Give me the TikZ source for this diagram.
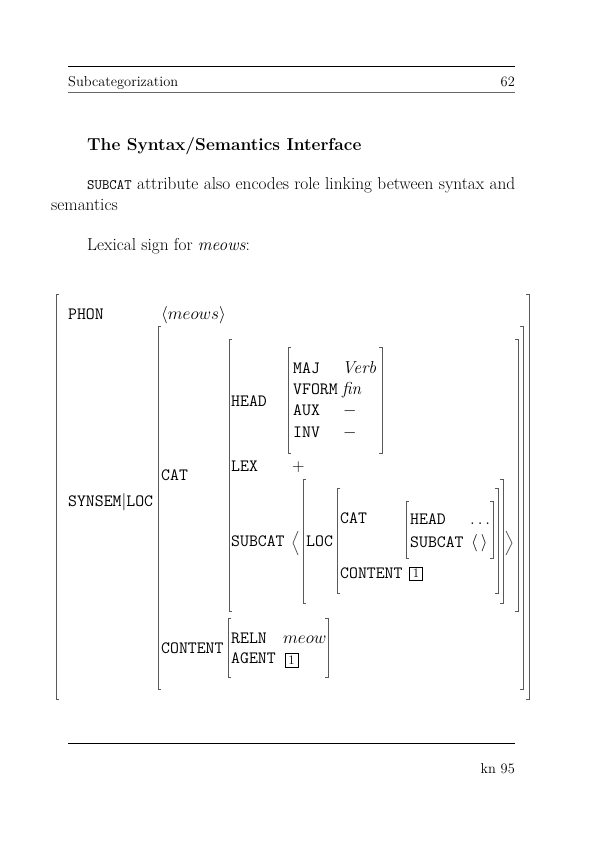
\documentclass[tikz,border=0pt]{standalone}
\usepackage{fontspec}
\newcommand\avmsz{\fontsize{17.28}{20}\selectfont}
\newcommand\bodysz{\fontsize{17.28}{20}\selectfont}
\newcommand\brackpair[4]{%
  \draw[brk] (#1+3,#3) -- (#1,#3) -- (#1,#4) -- (#1+3,#4);
  \draw[brk] (#2-3,#3) -- (#2,#3) -- (#2,#4) -- (#2-3,#4);}
\tikzset{
  key/.style={anchor=base west, inner sep=0pt, font=\avmsz\ttfamily},
  valsty/.style={anchor=base west, inner sep=0pt, font=\avmsz},
  brk/.style={line width=0.8pt, draw=black!65},
  tagbox/.style={draw, line width=0.5pt, inner sep=0pt, minimum width=13pt, minimum height=13.5pt, font=\fontsize{13}{13}\selectfont},
  txt/.style={anchor=base west, inner sep=0pt, font=\bodysz},
}
\begin{document}
\begin{tikzpicture}[x=1pt,y=-1pt]
\useasboundingbox (0,0) rectangle (595,842);
% header
\coordinate (hl1) at (68,66); \coordinate (hr1) at (515,66);
\draw[line width=0.9pt] (hl1) -- (hr1);
\node[anchor=base west, inner sep=0pt, font=\fontsize{14.4}{17}\selectfont] (hd) at (68,86.5) {Subcategorization};
\node[anchor=base east, inner sep=0pt, font=\fontsize{14.4}{17}\selectfont] (pg) at (515,86.5) {62};
\coordinate (hl2) at (68,92.5); \coordinate (hr2) at (515,92.5);
\draw[line width=1pt, black!60] (hl2) -- (hr2);
% title and text
\node[anchor=base west, inner sep=0pt, font=\fontsize{17.28}{20}\selectfont\bfseries] (title) at (87,151) {The Syntax/Semantics Interface};
\node[txt] (p1) at (87,190) {\makebox[428pt][s]{{\fontsize{14.4}{17}\selectfont\ttfamily SUBCAT} attribute also encodes role linking between syntax and}};
\node[txt] (p2) at (51,211) {semantics};
\node[txt] (p3) at (87,250) {Lexical sign for \textit{meows}:};
% AVM brackets
\brackpair{56}{529}{294}{699}
\brackpair{158}{523}{326}{689}
\brackpair{229}{518}{339}{611}
\brackpair{288}{382}{347}{453}
\brackpair{303}{503}{479}{603}
\brackpair{337}{498}{488}{593}
\brackpair{406}{493}{501}{558}
\brackpair{228}{328}{618}{677}
\coordinate (la1) at (298,531); \coordinate (la2) at (293,543); \coordinate (la3) at (298,555);
\draw[brk] (la1) -- (la2) -- (la3);
\coordinate (ra1) at (506,531); \coordinate (ra2) at (512,543); \coordinate (ra3) at (506,555);
\draw[brk] (ra1) -- (ra2) -- (ra3);
% AVM text
\node[key] (phon) at (68,319) {PHON};
\node[valsty] (phonv) at (161,319) {$\langle meows\rangle$};
\node[key] (synsem) at (68,506) {SYNSEM$|$LOC};
\node[key] (cat) at (161,480) {CAT};
\node[key] (cont) at (161,653) {CONTENT};
\node[key] (head) at (231,406) {HEAD};
\node[key] (maj) at (293,373) {MAJ};
\node[key] (vform) at (293,394) {VFORM};
\node[key] (aux) at (293,415) {AUX};
\node[key] (inv) at (293,437) {INV};
\node[valsty] (majv) at (342,373) {\itshape Verb};
\node[valsty] (vformv) at (342,394) {\itshape fin};
\node[valsty] (auxv) at (343,415) {$-$};
\node[valsty] (invv) at (343,437) {$-$};
\node[key] (lex) at (231,471) {LEX};
\node[valsty] (lexv) at (292,471) {$+$};
\node[key] (subcat) at (231,546) {SUBCAT};
\node[key] (loc) at (306,546) {LOC};
\node[key] (cat2) at (340,523) {CAT};
\node[key] (cont2) at (340,578) {CONTENT};
\node[tagbox] (tag1) at (416,573.5) {1};
\node[key] (head2) at (410,524) {HEAD};
\node[valsty] (dots) at (470,524) {$\ldots$};
\node[key] (subcat2) at (410,547) {SUBCAT};
\node[valsty] (empty) at (471,547) {$\langle\,\rangle$};
\node[key] (reln) at (231,643) {RELN};
\node[key] (agent) at (231,663) {AGENT};
\node[valsty] (relnv) at (283,643) {$meow$};
\node[tagbox] (tag2) at (291.5,660) {1};
% footer
\coordinate (fl) at (68,743); \coordinate (fr) at (515,743);
\draw[line width=0.9pt] (fl) -- (fr);
\node[anchor=base east, inner sep=0pt, font=\fontsize{14.4}{17}\selectfont] (foot) at (515,773) {kn 95};
\end{tikzpicture}
\end{document}
